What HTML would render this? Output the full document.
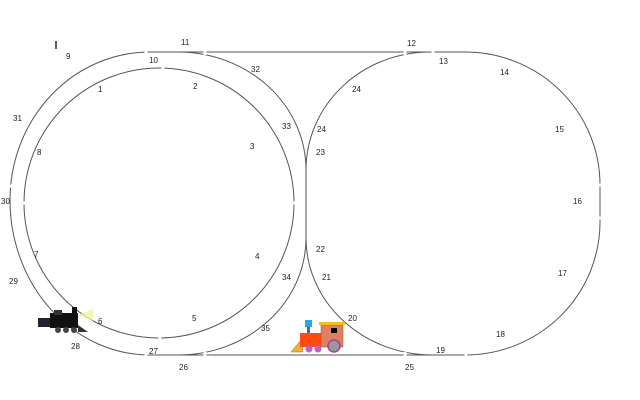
<!DOCTYPE html>
<html><head><meta charset="utf-8"><style>
html,body{margin:0;padding:0;background:#fff;width:640px;height:400px;overflow:hidden}
svg text{font-family:"Liberation Sans",sans-serif;font-size:8px;fill:#222}
</style></head><body>
<svg width="640" height="400" viewBox="0 0 640 400">
<g fill="none" stroke="#555" stroke-width="1">
  <circle cx="159" cy="203" r="135"/>
  <path d="M10,200 A140,148 0 0 1 150,52 L430,52"/>
  <path d="M178,52 A128,118 0 0 1 306,170 L306,238 A128,117 0 0 1 178,355"/>
  <path d="M10,200 A140,155 0 0 0 150,355 L433,355"/>
  <path d="M306,170 A124,118 0 0 1 430,52 L465,52 A135,133 0 0 1 600,185 L600,222 A135,133 0 0 1 465,355 L433,355 A127,117 0 0 1 306,238"/>
</g>
<g stroke="#fff" stroke-width="3">
  <line x1="146" y1="49" x2="146" y2="55"/><line x1="205" y1="49" x2="205" y2="55"/>
  <line x1="405" y1="49" x2="405" y2="55"/><line x1="433" y1="49" x2="433" y2="55"/>
  <line x1="163" y1="65" x2="163" y2="71"/><line x1="160" y1="335" x2="160" y2="341"/>
  <line x1="146" y1="352" x2="146" y2="358"/><line x1="205" y1="352" x2="205" y2="358"/>
  <line x1="405" y1="352" x2="405" y2="358"/><line x1="466" y1="352" x2="466" y2="358"/>
  <line x1="7" y1="186" x2="13" y2="186"/><line x1="21" y1="203" x2="27" y2="203"/>
  <line x1="292" y1="203" x2="298" y2="203"/><line x1="597" y1="185" x2="603" y2="185"/>
  <line x1="597" y1="218" x2="603" y2="218"/>
</g>
<line x1="56" y1="41" x2="56" y2="49" stroke="#222" stroke-width="1.5"/>
<g>
<text x="98" y="92">1</text><text x="193" y="89">2</text><text x="250" y="149">3</text><text x="255" y="259">4</text>
<text x="192" y="321">5</text><text x="98" y="324">6</text><text x="34" y="257">7</text><text x="37" y="155">8</text>
<text x="66" y="59">9</text><text x="149" y="63">10</text><text x="181" y="45">11</text><text x="407" y="46">12</text>
<text x="439" y="64">13</text><text x="500" y="75">14</text><text x="555" y="132">15</text><text x="573" y="204">16</text>
<text x="558" y="276">17</text><text x="496" y="337">18</text><text x="436" y="353">19</text><text x="348" y="321">20</text>
<text x="322" y="280">21</text><text x="316" y="252">22</text><text x="316" y="155">23</text><text x="317" y="132">24</text>
<text x="352" y="92">24</text><text x="405" y="370">25</text><text x="179" y="370">26</text><text x="149" y="354">27</text>
<text x="71" y="349">28</text><text x="9" y="284">29</text><text x="1" y="204">30</text><text x="13" y="121">31</text>
<text x="251" y="72">32</text><text x="282" y="129">33</text><text x="282" y="280">34</text><text x="261" y="331">35</text>
</g>
<g>
  <polygon points="78,315 93,309 93,321" fill="#f5f0a0" opacity="0.8"/>
  <rect x="38" y="318" width="12" height="9" fill="#223"/>
  <rect x="50" y="313" width="28" height="15" fill="#111"/>
  <rect x="72" y="307" width="5" height="8" fill="#111"/>
  <rect x="54" y="310" width="8" height="5" fill="#333"/>
  <circle cx="58" cy="330" r="3" fill="#444"/><circle cx="66" cy="330" r="3" fill="#444"/><circle cx="74" cy="330" r="3" fill="#444"/>
  <polygon points="78,325 88,332 78,332" fill="#333"/>
</g>
<g>
  <polygon points="291,352 301,340 303,352" fill="#f0b030" stroke="#a07010" stroke-width="0.5"/>
  <rect x="305" y="320" width="7" height="7" fill="#29a8e0"/>
  <rect x="307" y="327" width="3" height="6" fill="#666"/>
  <rect x="300" y="333" width="24" height="14" fill="#ff4a10"/>
  <rect x="321" y="325" width="22" height="22" fill="#e08060" stroke="#a05030" stroke-width="0.5"/>
  <rect x="319" y="322" width="26" height="3" fill="#f0c020"/>
  <rect x="331" y="328" width="6" height="5" fill="#000"/>
  <circle cx="309" cy="349" r="3.5" fill="#c060c0"/><circle cx="318" cy="349" r="3.5" fill="#c060c0"/>
  <circle cx="334" cy="346" r="6" fill="#999" stroke="#a040a0" stroke-width="1.5"/>
</g>
</svg>
</body></html>
